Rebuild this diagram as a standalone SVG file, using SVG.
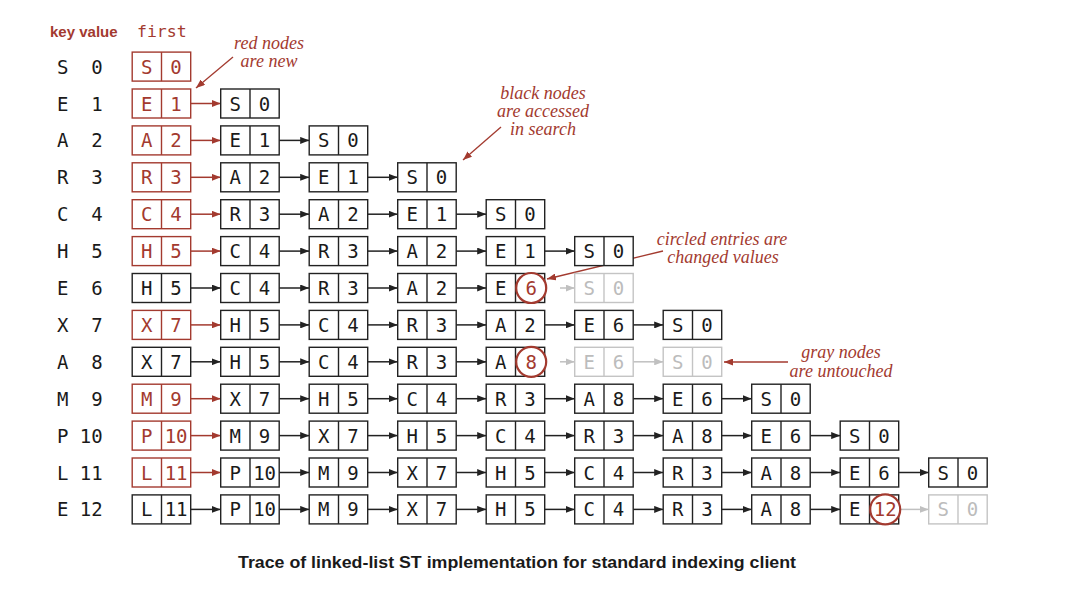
<svg xmlns="http://www.w3.org/2000/svg" width="1070" height="616" viewBox="0 0 1070 616">
<style>
.nd rect{fill:#fff;stroke:#222;stroke-width:1.4}
.nd path{fill:none;stroke:#222;stroke-width:1.4}
.nd text{font-family:"DejaVu Sans Mono",monospace;font-size:19px;text-anchor:middle;fill:#1a1a1a}
.new rect,.new path{stroke:#a33a2f}
.new text{fill:#a33a2f}
.gr rect,.gr path{stroke:#c4c4c4}
.gr text{fill:#bcbcbc}
.ring{fill:#fff;stroke:#a33a2f;stroke-width:2.2}
.nd text.cv{fill:#a33a2f}
.ab{stroke:#222;stroke-width:1.5;marker-end:url(#mb)}
.ar{stroke:#a33a2f;stroke-width:1.5;marker-end:url(#mr)}
.ag{stroke:#c0c0c0;stroke-width:1.5;marker-end:url(#mg)}
.an{stroke:#a33a2f;stroke-width:1.3;marker-end:url(#mr)}
.k{font-family:"DejaVu Sans Mono",monospace;font-size:19px;fill:#1a1a1a;text-anchor:middle}
.v{font-family:"DejaVu Sans Mono",monospace;font-size:19px;fill:#1a1a1a;text-anchor:end}
.note{font-family:"Liberation Serif",serif;font-style:italic;font-size:18px;fill:#a33a2f;text-anchor:middle}
</style>
<defs>
<marker id="mb" markerUnits="userSpaceOnUse" markerWidth="9" markerHeight="7" refX="9" refY="3.5" orient="auto"><path d="M0,0L9,3.5L0,7z" fill="#222"/></marker>
<marker id="mr" markerUnits="userSpaceOnUse" markerWidth="9" markerHeight="7" refX="9" refY="3.5" orient="auto"><path d="M0,0L9,3.5L0,7z" fill="#a33a2f"/></marker>
<marker id="mg" markerUnits="userSpaceOnUse" markerWidth="9" markerHeight="7" refX="9" refY="3.5" orient="auto"><path d="M0,0L9,3.5L0,7z" fill="#c0c0c0"/></marker>
</defs>
<rect width="1070" height="616" fill="#fff"/>

<g id="header">
<text x="50" y="37" font-family="Liberation Sans,Arial,sans-serif" font-weight="bold" font-size="15" fill="#a33a2f">key value</text>
<text x="137" y="37" font-family="DejaVu Sans Mono,monospace" font-size="16.5" fill="#a33a2f">first</text>
</g>

<g id="keyvalues">
<text class="k" x="62.7" y="73.6">S</text><text class="v" x="102.6" y="73.6">0</text>
<text class="k" x="62.7" y="110.5">E</text><text class="v" x="102.6" y="110.5">1</text>
<text class="k" x="62.7" y="147.4">A</text><text class="v" x="102.6" y="147.4">2</text>
<text class="k" x="62.7" y="184.3">R</text><text class="v" x="102.6" y="184.3">3</text>
<text class="k" x="62.7" y="221.2">C</text><text class="v" x="102.6" y="221.2">4</text>
<text class="k" x="62.7" y="258.1">H</text><text class="v" x="102.6" y="258.1">5</text>
<text class="k" x="62.7" y="295">E</text><text class="v" x="102.6" y="295">6</text>
<text class="k" x="62.7" y="331.9">X</text><text class="v" x="102.6" y="331.9">7</text>
<text class="k" x="62.7" y="368.8">A</text><text class="v" x="102.6" y="368.8">8</text>
<text class="k" x="62.7" y="405.7">M</text><text class="v" x="102.6" y="405.7">9</text>
<text class="k" x="62.7" y="442.6">P</text><text class="v" x="102.6" y="442.6">10</text>
<text class="k" x="62.7" y="479.5">L</text><text class="v" x="102.6" y="479.5">11</text>
<text class="k" x="62.7" y="516.4">E</text><text class="v" x="102.6" y="516.4">12</text>
</g>

<g id="connectors">
<line class="ar" x1="190.7" y1="103.5" x2="220.7" y2="103.5"/>

<line class="ar" x1="190.7" y1="140.4" x2="220.7" y2="140.4"/>
<line class="ab" x1="279.2" y1="140.4" x2="309.2" y2="140.4"/>

<line class="ar" x1="190.7" y1="177.3" x2="220.7" y2="177.3"/>
<line class="ab" x1="279.2" y1="177.3" x2="309.2" y2="177.3"/>
<line class="ab" x1="367.7" y1="177.3" x2="397.7" y2="177.3"/>

<line class="ar" x1="190.7" y1="214.2" x2="220.7" y2="214.2"/>
<line class="ab" x1="279.2" y1="214.2" x2="309.2" y2="214.2"/>
<line class="ab" x1="367.7" y1="214.2" x2="397.7" y2="214.2"/>
<line class="ab" x1="456.2" y1="214.2" x2="486.2" y2="214.2"/>

<line class="ar" x1="190.7" y1="251.1" x2="220.7" y2="251.1"/>
<line class="ab" x1="279.2" y1="251.1" x2="309.2" y2="251.1"/>
<line class="ab" x1="367.7" y1="251.1" x2="397.7" y2="251.1"/>
<line class="ab" x1="456.2" y1="251.1" x2="486.2" y2="251.1"/>
<line class="ab" x1="544.7" y1="251.1" x2="574.7" y2="251.1"/>

<line class="ab" x1="190.7" y1="288" x2="220.7" y2="288"/>
<line class="ab" x1="279.2" y1="288" x2="309.2" y2="288"/>
<line class="ab" x1="367.7" y1="288" x2="397.7" y2="288"/>
<line class="ab" x1="456.2" y1="288" x2="486.2" y2="288"/>
<line class="ag" x1="560" y1="288" x2="574.7" y2="288"/>

<line class="ar" x1="190.7" y1="324.9" x2="220.7" y2="324.9"/>
<line class="ab" x1="279.2" y1="324.9" x2="309.2" y2="324.9"/>
<line class="ab" x1="367.7" y1="324.9" x2="397.7" y2="324.9"/>
<line class="ab" x1="456.2" y1="324.9" x2="486.2" y2="324.9"/>
<line class="ab" x1="544.7" y1="324.9" x2="574.7" y2="324.9"/>
<line class="ab" x1="633.2" y1="324.9" x2="663.2" y2="324.9"/>

<line class="ab" x1="190.7" y1="361.8" x2="220.7" y2="361.8"/>
<line class="ab" x1="279.2" y1="361.8" x2="309.2" y2="361.8"/>
<line class="ab" x1="367.7" y1="361.8" x2="397.7" y2="361.8"/>
<line class="ab" x1="456.2" y1="361.8" x2="486.2" y2="361.8"/>
<line class="ag" x1="560" y1="361.8" x2="574.7" y2="361.8"/>
<line class="ag" x1="633.2" y1="361.8" x2="663.2" y2="361.8"/>

<line class="ar" x1="190.7" y1="398.7" x2="220.7" y2="398.7"/>
<line class="ab" x1="279.2" y1="398.7" x2="309.2" y2="398.7"/>
<line class="ab" x1="367.7" y1="398.7" x2="397.7" y2="398.7"/>
<line class="ab" x1="456.2" y1="398.7" x2="486.2" y2="398.7"/>
<line class="ab" x1="544.7" y1="398.7" x2="574.7" y2="398.7"/>
<line class="ab" x1="633.2" y1="398.7" x2="663.2" y2="398.7"/>
<line class="ab" x1="721.7" y1="398.7" x2="751.7" y2="398.7"/>

<line class="ar" x1="190.7" y1="435.6" x2="220.7" y2="435.6"/>
<line class="ab" x1="279.2" y1="435.6" x2="309.2" y2="435.6"/>
<line class="ab" x1="367.7" y1="435.6" x2="397.7" y2="435.6"/>
<line class="ab" x1="456.2" y1="435.6" x2="486.2" y2="435.6"/>
<line class="ab" x1="544.7" y1="435.6" x2="574.7" y2="435.6"/>
<line class="ab" x1="633.2" y1="435.6" x2="663.2" y2="435.6"/>
<line class="ab" x1="721.7" y1="435.6" x2="751.7" y2="435.6"/>
<line class="ab" x1="810.2" y1="435.6" x2="840.2" y2="435.6"/>

<line class="ar" x1="190.7" y1="472.5" x2="220.7" y2="472.5"/>
<line class="ab" x1="279.2" y1="472.5" x2="309.2" y2="472.5"/>
<line class="ab" x1="367.7" y1="472.5" x2="397.7" y2="472.5"/>
<line class="ab" x1="456.2" y1="472.5" x2="486.2" y2="472.5"/>
<line class="ab" x1="544.7" y1="472.5" x2="574.7" y2="472.5"/>
<line class="ab" x1="633.2" y1="472.5" x2="663.2" y2="472.5"/>
<line class="ab" x1="721.7" y1="472.5" x2="751.7" y2="472.5"/>
<line class="ab" x1="810.2" y1="472.5" x2="840.2" y2="472.5"/>
<line class="ab" x1="898.7" y1="472.5" x2="928.7" y2="472.5"/>

<line class="ab" x1="190.7" y1="509.4" x2="220.7" y2="509.4"/>
<line class="ab" x1="279.2" y1="509.4" x2="309.2" y2="509.4"/>
<line class="ab" x1="367.7" y1="509.4" x2="397.7" y2="509.4"/>
<line class="ab" x1="456.2" y1="509.4" x2="486.2" y2="509.4"/>
<line class="ab" x1="544.7" y1="509.4" x2="574.7" y2="509.4"/>
<line class="ab" x1="633.2" y1="509.4" x2="663.2" y2="509.4"/>
<line class="ab" x1="721.7" y1="509.4" x2="751.7" y2="509.4"/>
<line class="ab" x1="810.2" y1="509.4" x2="840.2" y2="509.4"/>
<line class="ag" x1="898.7" y1="509.4" x2="928.7" y2="509.4"/>

<line class="an" x1="233" y1="57" x2="196" y2="88"/>
<line class="an" x1="501" y1="127" x2="463" y2="160"/>
<line class="an" x1="663" y1="251" x2="547" y2="279"/>
<line class="an" x1="788" y1="362" x2="724" y2="362"/>
</g>

<g id="row0">
<g id="n0-0" class="nd new" transform="translate(132.2,52.1)"><rect width="58.5" height="29"/><path d="M29.3 0v29"/><text x="14.6" y="21.5">S</text><text x="43.9" y="21.5">0</text></g>
</g>
<g id="row1">
<g id="n1-0" class="nd new" transform="translate(132.2,89)"><rect width="58.5" height="29"/><path d="M29.3 0v29"/><text x="14.6" y="21.5">E</text><text x="43.9" y="21.5">1</text></g>
<g id="n1-1" class="nd" transform="translate(220.7,89)"><rect width="58.5" height="29"/><path d="M29.3 0v29"/><text x="14.6" y="21.5">S</text><text x="43.9" y="21.5">0</text></g>
</g>
<g id="row2">
<g id="n2-0" class="nd new" transform="translate(132.2,125.9)"><rect width="58.5" height="29"/><path d="M29.3 0v29"/><text x="14.6" y="21.5">A</text><text x="43.9" y="21.5">2</text></g>
<g id="n2-1" class="nd" transform="translate(220.7,125.9)"><rect width="58.5" height="29"/><path d="M29.3 0v29"/><text x="14.6" y="21.5">E</text><text x="43.9" y="21.5">1</text></g>
<g id="n2-2" class="nd" transform="translate(309.2,125.9)"><rect width="58.5" height="29"/><path d="M29.3 0v29"/><text x="14.6" y="21.5">S</text><text x="43.9" y="21.5">0</text></g>
</g>
<g id="row3">
<g id="n3-0" class="nd new" transform="translate(132.2,162.8)"><rect width="58.5" height="29"/><path d="M29.3 0v29"/><text x="14.6" y="21.5">R</text><text x="43.9" y="21.5">3</text></g>
<g id="n3-1" class="nd" transform="translate(220.7,162.8)"><rect width="58.5" height="29"/><path d="M29.3 0v29"/><text x="14.6" y="21.5">A</text><text x="43.9" y="21.5">2</text></g>
<g id="n3-2" class="nd" transform="translate(309.2,162.8)"><rect width="58.5" height="29"/><path d="M29.3 0v29"/><text x="14.6" y="21.5">E</text><text x="43.9" y="21.5">1</text></g>
<g id="n3-3" class="nd" transform="translate(397.7,162.8)"><rect width="58.5" height="29"/><path d="M29.3 0v29"/><text x="14.6" y="21.5">S</text><text x="43.9" y="21.5">0</text></g>
</g>
<g id="row4">
<g id="n4-0" class="nd new" transform="translate(132.2,199.7)"><rect width="58.5" height="29"/><path d="M29.3 0v29"/><text x="14.6" y="21.5">C</text><text x="43.9" y="21.5">4</text></g>
<g id="n4-1" class="nd" transform="translate(220.7,199.7)"><rect width="58.5" height="29"/><path d="M29.3 0v29"/><text x="14.6" y="21.5">R</text><text x="43.9" y="21.5">3</text></g>
<g id="n4-2" class="nd" transform="translate(309.2,199.7)"><rect width="58.5" height="29"/><path d="M29.3 0v29"/><text x="14.6" y="21.5">A</text><text x="43.9" y="21.5">2</text></g>
<g id="n4-3" class="nd" transform="translate(397.7,199.7)"><rect width="58.5" height="29"/><path d="M29.3 0v29"/><text x="14.6" y="21.5">E</text><text x="43.9" y="21.5">1</text></g>
<g id="n4-4" class="nd" transform="translate(486.2,199.7)"><rect width="58.5" height="29"/><path d="M29.3 0v29"/><text x="14.6" y="21.5">S</text><text x="43.9" y="21.5">0</text></g>
</g>
<g id="row5">
<g id="n5-0" class="nd new" transform="translate(132.2,236.6)"><rect width="58.5" height="29"/><path d="M29.3 0v29"/><text x="14.6" y="21.5">H</text><text x="43.9" y="21.5">5</text></g>
<g id="n5-1" class="nd" transform="translate(220.7,236.6)"><rect width="58.5" height="29"/><path d="M29.3 0v29"/><text x="14.6" y="21.5">C</text><text x="43.9" y="21.5">4</text></g>
<g id="n5-2" class="nd" transform="translate(309.2,236.6)"><rect width="58.5" height="29"/><path d="M29.3 0v29"/><text x="14.6" y="21.5">R</text><text x="43.9" y="21.5">3</text></g>
<g id="n5-3" class="nd" transform="translate(397.7,236.6)"><rect width="58.5" height="29"/><path d="M29.3 0v29"/><text x="14.6" y="21.5">A</text><text x="43.9" y="21.5">2</text></g>
<g id="n5-4" class="nd" transform="translate(486.2,236.6)"><rect width="58.5" height="29"/><path d="M29.3 0v29"/><text x="14.6" y="21.5">E</text><text x="43.9" y="21.5">1</text></g>
<g id="n5-5" class="nd" transform="translate(574.7,236.6)"><rect width="58.5" height="29"/><path d="M29.3 0v29"/><text x="14.6" y="21.5">S</text><text x="43.9" y="21.5">0</text></g>
</g>
<g id="row6">
<g id="n6-0" class="nd" transform="translate(132.2,273.5)"><rect width="58.5" height="29"/><path d="M29.3 0v29"/><text x="14.6" y="21.5">H</text><text x="43.9" y="21.5">5</text></g>
<g id="n6-1" class="nd" transform="translate(220.7,273.5)"><rect width="58.5" height="29"/><path d="M29.3 0v29"/><text x="14.6" y="21.5">C</text><text x="43.9" y="21.5">4</text></g>
<g id="n6-2" class="nd" transform="translate(309.2,273.5)"><rect width="58.5" height="29"/><path d="M29.3 0v29"/><text x="14.6" y="21.5">R</text><text x="43.9" y="21.5">3</text></g>
<g id="n6-3" class="nd" transform="translate(397.7,273.5)"><rect width="58.5" height="29"/><path d="M29.3 0v29"/><text x="14.6" y="21.5">A</text><text x="43.9" y="21.5">2</text></g>
<g id="n6-4" class="nd" transform="translate(486.2,273.5)"><rect width="58.5" height="29"/><path d="M29.3 0v29"/><text x="14.6" y="21.5">E</text><circle class="ring" cx="45" cy="14.5" r="15"/><text class="cv" x="45" y="21.5">6</text></g>
<g id="n6-5" class="nd gr" transform="translate(574.7,273.5)"><rect width="58.5" height="29"/><path d="M29.3 0v29"/><text x="14.6" y="21.5">S</text><text x="43.9" y="21.5">0</text></g>
</g>
<g id="row7">
<g id="n7-0" class="nd new" transform="translate(132.2,310.4)"><rect width="58.5" height="29"/><path d="M29.3 0v29"/><text x="14.6" y="21.5">X</text><text x="43.9" y="21.5">7</text></g>
<g id="n7-1" class="nd" transform="translate(220.7,310.4)"><rect width="58.5" height="29"/><path d="M29.3 0v29"/><text x="14.6" y="21.5">H</text><text x="43.9" y="21.5">5</text></g>
<g id="n7-2" class="nd" transform="translate(309.2,310.4)"><rect width="58.5" height="29"/><path d="M29.3 0v29"/><text x="14.6" y="21.5">C</text><text x="43.9" y="21.5">4</text></g>
<g id="n7-3" class="nd" transform="translate(397.7,310.4)"><rect width="58.5" height="29"/><path d="M29.3 0v29"/><text x="14.6" y="21.5">R</text><text x="43.9" y="21.5">3</text></g>
<g id="n7-4" class="nd" transform="translate(486.2,310.4)"><rect width="58.5" height="29"/><path d="M29.3 0v29"/><text x="14.6" y="21.5">A</text><text x="43.9" y="21.5">2</text></g>
<g id="n7-5" class="nd" transform="translate(574.7,310.4)"><rect width="58.5" height="29"/><path d="M29.3 0v29"/><text x="14.6" y="21.5">E</text><text x="43.9" y="21.5">6</text></g>
<g id="n7-6" class="nd" transform="translate(663.2,310.4)"><rect width="58.5" height="29"/><path d="M29.3 0v29"/><text x="14.6" y="21.5">S</text><text x="43.9" y="21.5">0</text></g>
</g>
<g id="row8">
<g id="n8-0" class="nd" transform="translate(132.2,347.3)"><rect width="58.5" height="29"/><path d="M29.3 0v29"/><text x="14.6" y="21.5">X</text><text x="43.9" y="21.5">7</text></g>
<g id="n8-1" class="nd" transform="translate(220.7,347.3)"><rect width="58.5" height="29"/><path d="M29.3 0v29"/><text x="14.6" y="21.5">H</text><text x="43.9" y="21.5">5</text></g>
<g id="n8-2" class="nd" transform="translate(309.2,347.3)"><rect width="58.5" height="29"/><path d="M29.3 0v29"/><text x="14.6" y="21.5">C</text><text x="43.9" y="21.5">4</text></g>
<g id="n8-3" class="nd" transform="translate(397.7,347.3)"><rect width="58.5" height="29"/><path d="M29.3 0v29"/><text x="14.6" y="21.5">R</text><text x="43.9" y="21.5">3</text></g>
<g id="n8-4" class="nd" transform="translate(486.2,347.3)"><rect width="58.5" height="29"/><path d="M29.3 0v29"/><text x="14.6" y="21.5">A</text><circle class="ring" cx="45" cy="14.5" r="15"/><text class="cv" x="45" y="21.5">8</text></g>
<g id="n8-5" class="nd gr" transform="translate(574.7,347.3)"><rect width="58.5" height="29"/><path d="M29.3 0v29"/><text x="14.6" y="21.5">E</text><text x="43.9" y="21.5">6</text></g>
<g id="n8-6" class="nd gr" transform="translate(663.2,347.3)"><rect width="58.5" height="29"/><path d="M29.3 0v29"/><text x="14.6" y="21.5">S</text><text x="43.9" y="21.5">0</text></g>
</g>
<g id="row9">
<g id="n9-0" class="nd new" transform="translate(132.2,384.2)"><rect width="58.5" height="29"/><path d="M29.3 0v29"/><text x="14.6" y="21.5">M</text><text x="43.9" y="21.5">9</text></g>
<g id="n9-1" class="nd" transform="translate(220.7,384.2)"><rect width="58.5" height="29"/><path d="M29.3 0v29"/><text x="14.6" y="21.5">X</text><text x="43.9" y="21.5">7</text></g>
<g id="n9-2" class="nd" transform="translate(309.2,384.2)"><rect width="58.5" height="29"/><path d="M29.3 0v29"/><text x="14.6" y="21.5">H</text><text x="43.9" y="21.5">5</text></g>
<g id="n9-3" class="nd" transform="translate(397.7,384.2)"><rect width="58.5" height="29"/><path d="M29.3 0v29"/><text x="14.6" y="21.5">C</text><text x="43.9" y="21.5">4</text></g>
<g id="n9-4" class="nd" transform="translate(486.2,384.2)"><rect width="58.5" height="29"/><path d="M29.3 0v29"/><text x="14.6" y="21.5">R</text><text x="43.9" y="21.5">3</text></g>
<g id="n9-5" class="nd" transform="translate(574.7,384.2)"><rect width="58.5" height="29"/><path d="M29.3 0v29"/><text x="14.6" y="21.5">A</text><text x="43.9" y="21.5">8</text></g>
<g id="n9-6" class="nd" transform="translate(663.2,384.2)"><rect width="58.5" height="29"/><path d="M29.3 0v29"/><text x="14.6" y="21.5">E</text><text x="43.9" y="21.5">6</text></g>
<g id="n9-7" class="nd" transform="translate(751.7,384.2)"><rect width="58.5" height="29"/><path d="M29.3 0v29"/><text x="14.6" y="21.5">S</text><text x="43.9" y="21.5">0</text></g>
</g>
<g id="row10">
<g id="n10-0" class="nd new" transform="translate(132.2,421.1)"><rect width="58.5" height="29"/><path d="M29.3 0v29"/><text x="14.6" y="21.5">P</text><text x="43.9" y="21.5">10</text></g>
<g id="n10-1" class="nd" transform="translate(220.7,421.1)"><rect width="58.5" height="29"/><path d="M29.3 0v29"/><text x="14.6" y="21.5">M</text><text x="43.9" y="21.5">9</text></g>
<g id="n10-2" class="nd" transform="translate(309.2,421.1)"><rect width="58.5" height="29"/><path d="M29.3 0v29"/><text x="14.6" y="21.5">X</text><text x="43.9" y="21.5">7</text></g>
<g id="n10-3" class="nd" transform="translate(397.7,421.1)"><rect width="58.5" height="29"/><path d="M29.3 0v29"/><text x="14.6" y="21.5">H</text><text x="43.9" y="21.5">5</text></g>
<g id="n10-4" class="nd" transform="translate(486.2,421.1)"><rect width="58.5" height="29"/><path d="M29.3 0v29"/><text x="14.6" y="21.5">C</text><text x="43.9" y="21.5">4</text></g>
<g id="n10-5" class="nd" transform="translate(574.7,421.1)"><rect width="58.5" height="29"/><path d="M29.3 0v29"/><text x="14.6" y="21.5">R</text><text x="43.9" y="21.5">3</text></g>
<g id="n10-6" class="nd" transform="translate(663.2,421.1)"><rect width="58.5" height="29"/><path d="M29.3 0v29"/><text x="14.6" y="21.5">A</text><text x="43.9" y="21.5">8</text></g>
<g id="n10-7" class="nd" transform="translate(751.7,421.1)"><rect width="58.5" height="29"/><path d="M29.3 0v29"/><text x="14.6" y="21.5">E</text><text x="43.9" y="21.5">6</text></g>
<g id="n10-8" class="nd" transform="translate(840.2,421.1)"><rect width="58.5" height="29"/><path d="M29.3 0v29"/><text x="14.6" y="21.5">S</text><text x="43.9" y="21.5">0</text></g>
</g>
<g id="row11">
<g id="n11-0" class="nd new" transform="translate(132.2,458)"><rect width="58.5" height="29"/><path d="M29.3 0v29"/><text x="14.6" y="21.5">L</text><text x="43.9" y="21.5">11</text></g>
<g id="n11-1" class="nd" transform="translate(220.7,458)"><rect width="58.5" height="29"/><path d="M29.3 0v29"/><text x="14.6" y="21.5">P</text><text x="43.9" y="21.5">10</text></g>
<g id="n11-2" class="nd" transform="translate(309.2,458)"><rect width="58.5" height="29"/><path d="M29.3 0v29"/><text x="14.6" y="21.5">M</text><text x="43.9" y="21.5">9</text></g>
<g id="n11-3" class="nd" transform="translate(397.7,458)"><rect width="58.5" height="29"/><path d="M29.3 0v29"/><text x="14.6" y="21.5">X</text><text x="43.9" y="21.5">7</text></g>
<g id="n11-4" class="nd" transform="translate(486.2,458)"><rect width="58.5" height="29"/><path d="M29.3 0v29"/><text x="14.6" y="21.5">H</text><text x="43.9" y="21.5">5</text></g>
<g id="n11-5" class="nd" transform="translate(574.7,458)"><rect width="58.5" height="29"/><path d="M29.3 0v29"/><text x="14.6" y="21.5">C</text><text x="43.9" y="21.5">4</text></g>
<g id="n11-6" class="nd" transform="translate(663.2,458)"><rect width="58.5" height="29"/><path d="M29.3 0v29"/><text x="14.6" y="21.5">R</text><text x="43.9" y="21.5">3</text></g>
<g id="n11-7" class="nd" transform="translate(751.7,458)"><rect width="58.5" height="29"/><path d="M29.3 0v29"/><text x="14.6" y="21.5">A</text><text x="43.9" y="21.5">8</text></g>
<g id="n11-8" class="nd" transform="translate(840.2,458)"><rect width="58.5" height="29"/><path d="M29.3 0v29"/><text x="14.6" y="21.5">E</text><text x="43.9" y="21.5">6</text></g>
<g id="n11-9" class="nd" transform="translate(928.7,458)"><rect width="58.5" height="29"/><path d="M29.3 0v29"/><text x="14.6" y="21.5">S</text><text x="43.9" y="21.5">0</text></g>
</g>
<g id="row12">
<g id="n12-0" class="nd" transform="translate(132.2,494.9)"><rect width="58.5" height="29"/><path d="M29.3 0v29"/><text x="14.6" y="21.5">L</text><text x="43.9" y="21.5">11</text></g>
<g id="n12-1" class="nd" transform="translate(220.7,494.9)"><rect width="58.5" height="29"/><path d="M29.3 0v29"/><text x="14.6" y="21.5">P</text><text x="43.9" y="21.5">10</text></g>
<g id="n12-2" class="nd" transform="translate(309.2,494.9)"><rect width="58.5" height="29"/><path d="M29.3 0v29"/><text x="14.6" y="21.5">M</text><text x="43.9" y="21.5">9</text></g>
<g id="n12-3" class="nd" transform="translate(397.7,494.9)"><rect width="58.5" height="29"/><path d="M29.3 0v29"/><text x="14.6" y="21.5">X</text><text x="43.9" y="21.5">7</text></g>
<g id="n12-4" class="nd" transform="translate(486.2,494.9)"><rect width="58.5" height="29"/><path d="M29.3 0v29"/><text x="14.6" y="21.5">H</text><text x="43.9" y="21.5">5</text></g>
<g id="n12-5" class="nd" transform="translate(574.7,494.9)"><rect width="58.5" height="29"/><path d="M29.3 0v29"/><text x="14.6" y="21.5">C</text><text x="43.9" y="21.5">4</text></g>
<g id="n12-6" class="nd" transform="translate(663.2,494.9)"><rect width="58.5" height="29"/><path d="M29.3 0v29"/><text x="14.6" y="21.5">R</text><text x="43.9" y="21.5">3</text></g>
<g id="n12-7" class="nd" transform="translate(751.7,494.9)"><rect width="58.5" height="29"/><path d="M29.3 0v29"/><text x="14.6" y="21.5">A</text><text x="43.9" y="21.5">8</text></g>
<g id="n12-8" class="nd" transform="translate(840.2,494.9)"><rect width="58.5" height="29"/><path d="M29.3 0v29"/><text x="14.6" y="21.5">E</text><circle class="ring" cx="45" cy="14.5" r="15"/><text class="cv" x="45" y="21.5">12</text></g>
<g id="n12-9" class="nd gr" transform="translate(928.7,494.9)"><rect width="58.5" height="29"/><path d="M29.3 0v29"/><text x="14.6" y="21.5">S</text><text x="43.9" y="21.5">0</text></g>
</g>

<g id="notes">
<text class="note" x="269" y="49">red nodes</text>
<text class="note" x="269" y="67">are new</text>
<text class="note" x="543" y="99">black nodes</text>
<text class="note" x="543" y="117">are accessed</text>
<text class="note" x="543" y="135">in search</text>
<text class="note" x="722" y="245">circled entries are</text>
<text class="note" x="723" y="263">changed values</text>
<text class="note" x="841" y="358">gray nodes</text>
<text class="note" x="841" y="377">are untouched</text>
</g>

<text id="caption" x="517" y="568" font-family="Liberation Sans,Arial,sans-serif" font-weight="bold" font-size="17" fill="#1a1a1a" text-anchor="middle" textLength="558" lengthAdjust="spacingAndGlyphs">Trace of linked-list ST implementation for standard indexing client</text>
</svg>
